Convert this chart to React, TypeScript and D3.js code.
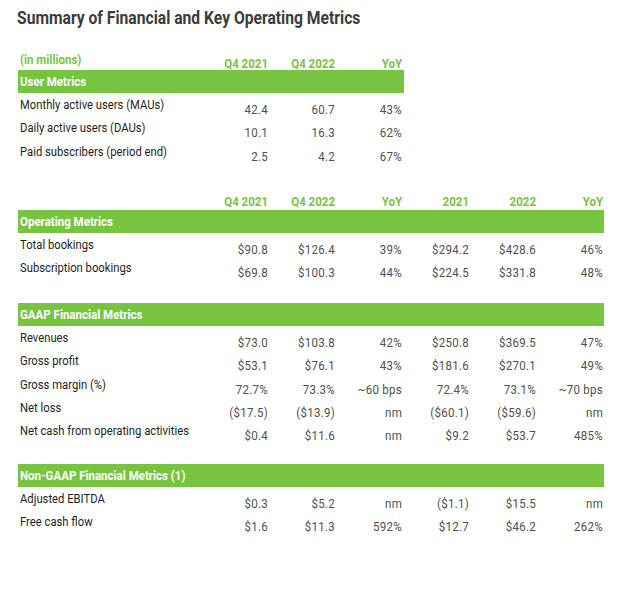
import React from "react";
import * as d3 from "d3";

const title = "Summary of Financial and Key Operating Metrics";
const unitsLabel = "(in millions)";
const quarterHeaders = ["Q4 2021", "Q4 2022", "YoY"];
const fullHeaders = ["Q4 2021", "Q4 2022", "YoY", "2021", "2022", "YoY"];

const userSection = "User Metrics";
const userLabels = ["Monthly active users (MAUs)", "Daily active users (DAUs)", "Paid subscribers (period end)"];
const userQ42021 = ["42.4", "10.1", "2.5"];
const userQ42022 = ["60.7", "16.3", "4.2"];
const userYoY = ["43%", "62%", "67%"];

const opSection = "Operating Metrics";
const opLabels = ["Total bookings", "Subscription bookings"];
const opQ42021 = ["$90.8", "$69.8"];
const opQ42022 = ["$126.4", "$100.3"];
const opQYoY = ["39%", "44%"];
const op2021 = ["$294.2", "$224.5"];
const op2022 = ["$428.6", "$331.8"];
const opYoY = ["46%", "48%"];

const gaapSection = "GAAP Financial Metrics";
const gaapLabels = ["Revenues", "Gross profit", "Gross margin (%)", "Net loss", "Net cash from operating activities"];
const gaapQ42021 = ["$73.0", "$53.1", "72.7%", "($17.5)", "$0.4"];
const gaapQ42022 = ["$103.8", "$76.1", "73.3%", "($13.9)", "$11.6"];
const gaapQYoY = ["42%", "43%", "~60 bps", "nm", "nm"];
const gaap2021 = ["$250.8", "$181.6", "72.4%", "($60.1)", "$9.2"];
const gaap2022 = ["$369.5", "$270.1", "73.1%", "($59.6)", "$53.7"];
const gaapYoY = ["47%", "49%", "~70 bps", "nm", "485%"];

const nonGaapSection = "Non-GAAP Financial Metrics (1)";
const nonGaapLabels = ["Adjusted EBITDA", "Free cash flow"];
const nonGaapQ42021 = ["$0.3", "$1.6"];
const nonGaapQ42022 = ["$5.2", "$11.3"];
const nonGaapQYoY = ["nm", "592%"];
const nonGaap2021 = ["($1.1)", "$12.7"];
const nonGaap2022 = ["$15.5", "$46.2"];
const nonGaapYoY = ["nm", "262%"];

const GREEN = "#77c440";
const FONT = "Roboto, 'Open Sans', sans-serif";
const SX = 0.88;

const colX = d3.scalePoint<number>().domain([0, 1, 2, 3, 4, 5]).range([268, 603]);
const rowY = (start: number) => d3.scaleLinear().domain([0, 1]).range([start, start + 23.3]);

function T({ x, y, anchor = "start", size = 12.8, weight = 400, fill = "#1e1e1e", children, sx = SX, ls = 0 }: any) {
  return (
    <text
      transform={`translate(${x},${y}) scale(${sx},1)`}
      textAnchor={anchor}
      fontSize={size}
      fontWeight={weight}
      fill={fill}
      fontFamily={FONT}
      letterSpacing={ls}
    >
      {children}
    </text>
  );
}

function Section({ name, barTop, barRight, labels, cols }: { name: string; barTop: number; barRight: number; labels: string[]; cols: string[][] }) {
  const y = rowY(barTop + 39);
  return (
    <g>
      <rect x={18} y={barTop} width={barRight - 18} height={23} fill={GREEN} />
      <T x={20} y={barTop + 16} weight={700} fill="#ffffff" sx={0.9}>{name}</T>
      {labels.map((l, i) => (
        <g key={l}>
          <T x={20} y={y(i)}>{l}</T>
          {cols.map((c, j) => (
            <T key={j} x={colX(j)!} y={y(i) + 5} anchor="end" fill="#505050" sx={0.9} ls={0.3}>{c[i]}</T>
          ))}
        </g>
      ))}
    </g>
  );
}

export default function App() {
  return (
    <svg width={640} height={589} style={{ position: "absolute", left: 0, top: 0, background: "#fff" }}>
      <rect width={640} height={589} fill="#ffffff" />
      <T x={17} y={24} size={17.5} weight={700} fill="#3c3c3c" sx={0.895}>{title}</T>

      <T x={20} y={64} weight={700} fill={GREEN} sx={0.9}>{unitsLabel}</T>
      {quarterHeaders.map((h, j) => (
        <T key={j} x={colX(j)!} y={68} anchor="end" weight={700} fill={GREEN} sx={0.9}>{h}</T>
      ))}
      <Section name={userSection} barTop={70} barRight={404} labels={userLabels} cols={[userQ42021, userQ42022, userYoY]} />

      {fullHeaders.map((h, j) => (
        <T key={j} x={colX(j)!} y={206} anchor="end" weight={700} fill={GREEN} sx={0.9}>{h}</T>
      ))}
      <Section name={opSection} barTop={210} barRight={604} labels={opLabels} cols={[opQ42021, opQ42022, opQYoY, op2021, op2022, opYoY]} />
      <Section name={gaapSection} barTop={303} barRight={604} labels={gaapLabels} cols={[gaapQ42021, gaapQ42022, gaapQYoY, gaap2021, gaap2022, gaapYoY]} />
      <Section name={nonGaapSection} barTop={464} barRight={604} labels={nonGaapLabels} cols={[nonGaapQ42021, nonGaapQ42022, nonGaapQYoY, nonGaap2021, nonGaap2022, nonGaapYoY]} />
    </svg>
  );
}
